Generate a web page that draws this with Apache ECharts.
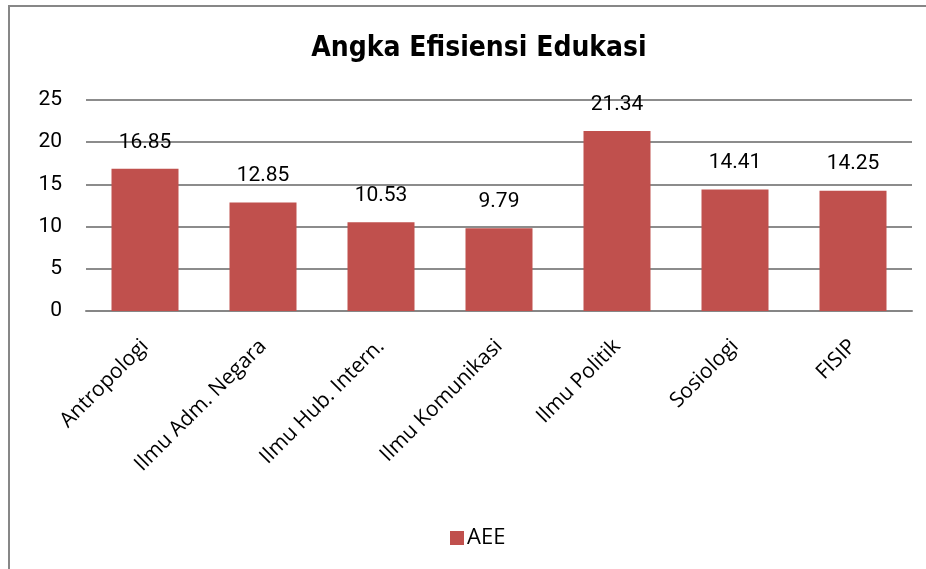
<!DOCTYPE html>
<html>
<head>
<meta charset="utf-8">
<script src="https://cdn.jsdelivr.net/npm/echarts@6/dist/echarts.min.js"></script>
<style>
  html, body { margin: 0; padding: 0; background: #fff; }
  #chart { width: 926px; height: 569px; }
</style>
</head>
<body>
<div id="chart"></div>
<script>
var categories = ['Antropologi', 'Ilmu Adm. Negara', 'Ilmu Hub. Intern.', 'Ilmu Komunikasi', 'Ilmu Politik', 'Sosiologi', 'FISIP'];
var aee = [16.85, 12.85, 10.53, 9.79, 21.34, 14.41, 14.25];

var chart = echarts.init(document.getElementById('chart'));

var option = {
    animation: false,
    backgroundColor: '#fff',
    graphic: [
        {
            type: 'rect',
            shape: { x: 9, y: 6, width: 1000, height: 1000 },
            style: { fill: 'none', stroke: '#878787', lineWidth: 2 }
        }
    ],
    title: {
        text: 'Angka Efisiensi Edukasi',
        left: 474,
        top: 30,
        textAlign: 'center',
        textStyle: {
            fontFamily: '"DejaVu Sans Condensed", "Liberation Sans", sans-serif',
            fontWeight: 'bold',
            fontSize: 28,
            color: '#000'
        }
    },
    legend: {
        data: ['AEE'],
        left: 450,
        top: 527,
        padding: 0,
        icon: 'rect',
        itemWidth: 14,
        itemHeight: 14,
        itemGap: 6,
        textStyle: { fontFamily: 'Open Sans', fontSize: 22, color: '#000', padding: [0, 0, 0, -2] }
    },
    grid: {
        left: 86,
        right: 14,
        top: 100,
        height: 211
    },
    xAxis: {
        type: 'category',
        data: categories,
        axisLine: { show: true, lineStyle: { color: '#868686', width: 2 } },
        axisTick: { show: false },
        axisLabel: {
            rotate: 45,
            interval: 0,
            margin: 32,
            fontFamily: 'Open Sans',
            fontSize: 21,
            color: '#000'
        }
    },
    yAxis: {
        type: 'value',
        min: 0,
        max: 25,
        interval: 5,
        axisLine: { show: false },
        axisTick: { show: false },
        axisLabel: {
            margin: 24,
            fontFamily: 'Roboto',
            fontSize: 21,
            color: '#000'
        },
        splitLine: { show: true, lineStyle: { color: '#8c8c8c', width: 2 } }
    },
    series: [
        {
            name: 'AEE',
            type: 'bar',
            barWidth: 67,
            data: aee,
            itemStyle: { color: '#C0504D' },
            label: {
                show: true,
                position: 'top',
                distance: 16,
                fontFamily: 'Roboto',
                fontSize: 21,
                color: '#000'
            }
        }
    ]
};

chart.setOption(option);
</script>
</body>
</html>
